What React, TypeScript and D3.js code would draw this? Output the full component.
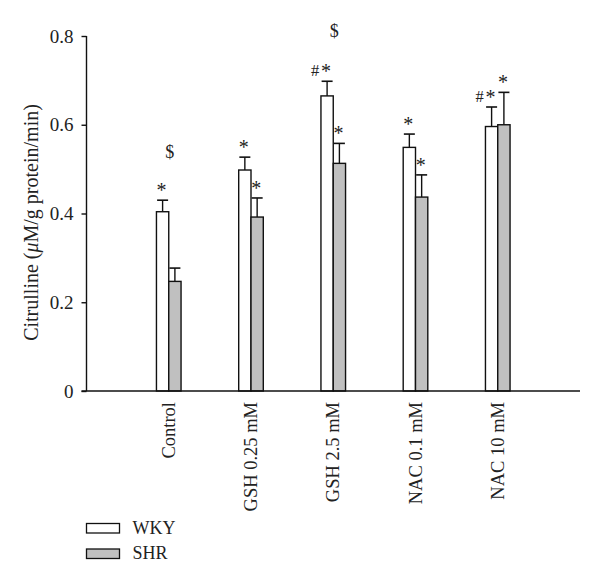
import React, { useEffect, useRef } from "react";
import * as d3 from "d3";

const categories = ["Control", "GSH 0.25 mM", "GSH 2.5 mM", "NAC 0.1 mM", "NAC 10 mM"];
const seriesNames = ["WKY", "SHR"];
const wkyMean = [0.404, 0.498, 0.665, 0.549, 0.596];
const wkyErr = [0.026, 0.029, 0.033, 0.03, 0.044];
const shrMean = [0.247, 0.392, 0.513, 0.437, 0.6];
const shrErr = [0.03, 0.043, 0.045, 0.05, 0.073];
// significance marks: "*" vs control, "#" vs other group
const wkyStar = [true, true, true, true, true];
const wkyHash = [false, false, true, false, true];
const shrStar = [false, true, true, true, true];
// "$" marks: group index and height (data units)
const dollarGroups = [0, 2];
const dollarLevels = [0.539, 0.813];
const yTicks = [0, 0.2, 0.4, 0.6, 0.8];

const FONT = "'Liberation Serif', 'DejaVu Serif', serif";

const App = () => {
  const container = useRef<HTMLDivElement>(null);

  useEffect(() => {
    const width = 600;
    const height = 586;
    const marginLeft = 86.5;
    const marginRight = 20;
    const marginTop = 36;
    const plotBottom = 391;
    const barW = 12.3;

    const x = d3
      .scalePoint()
      .domain(categories)
      .range([marginLeft, width - marginRight])
      .padding(1);

    const y = d3.scaleLinear().domain([0, 0.8]).range([plotBottom, marginTop]);

    const svg = d3
      .select(container.current)
      .append("svg")
      .attr("width", width)
      .attr("height", height)
      .style("display", "block")
      .style("font-family", FONT);

    const series = [
      { name: seriesNames[0], mean: wkyMean, err: wkyErr, star: wkyStar, hash: wkyHash, fill: "#ffffff", off: -barW },
      { name: seriesNames[1], mean: shrMean, err: shrErr, star: shrStar, hash: [] as boolean[], fill: "#c0c0c0", off: 0 },
    ];

    series.forEach((s) => {
      const g = svg.append("g");
      categories.forEach((c, i) => {
        const x0 = (x(c) as number) + s.off;
        const cx = x0 + barW / 2;
        const top = y(s.mean[i]);
        const errTop = y(s.mean[i] + s.err[i]);
        // error bar
        g.append("line")
          .attr("x1", cx).attr("x2", cx)
          .attr("y1", top).attr("y2", errTop)
          .attr("stroke", "#111").attr("stroke-width", 1.4);
        g.append("line")
          .attr("x1", cx - 5.5).attr("x2", cx + 5.5)
          .attr("y1", errTop).attr("y2", errTop)
          .attr("stroke", "#111").attr("stroke-width", 1.6);
        g.append("rect")
          .attr("x", x0)
          .attr("y", top)
          .attr("width", barW)
          .attr("height", plotBottom - top)
          .attr("fill", s.fill)
          .attr("stroke", "#111")
          .attr("stroke-width", 1.4);
        if (s.star[i]) {
          g.append("text")
            .attr("x", cx - 1)
            .attr("y", errTop - 3)
            .attr("text-anchor", "middle")
            .attr("font-size", 20)
            .attr("fill", "#222")
            .text("*");
        }
        if (s.hash[i]) {
          g.append("text")
            .attr("x", cx - 12)
            .attr("y", errTop - 5)
            .attr("text-anchor", "middle")
            .attr("font-size", 16.5)
            .attr("fill", "#222")
            .text("#");
        }
      });
    });

    dollarGroups.forEach((gi, k) => {
      svg.append("text")
        .attr("x", (x(categories[gi]) as number) + 1)
        .attr("y", y(dollarLevels[k]) + 6.5)
        .attr("text-anchor", "middle")
        .attr("font-size", 18)
        .attr("fill", "#222")
        .text("$");
    });

    // y axis
    const yAxis = svg
      .append("g")
      .attr("transform", `translate(${marginLeft},0)`)
      .call(
        d3.axisLeft(y)
          .tickValues(yTicks)
          .tickSize(5)
          .tickSizeOuter(0)
          .tickPadding(8)
          .tickFormat((d) => (d === 0 ? "0" : d3.format(".1f")(d as number)))
      );
    yAxis.select(".domain").attr("stroke", "#111").attr("stroke-width", 1.4)
      .attr("d", `M0,${plotBottom}V${marginTop}`);
    yAxis.selectAll(".tick line").attr("stroke", "#111").attr("stroke-width", 1.4);
    yAxis.selectAll("text").attr("font-size", 19).attr("font-family", FONT).attr("fill", "#222");

    // x axis
    svg.append("line")
      .attr("x1", marginLeft - 5).attr("x2", width - marginRight)
      .attr("y1", plotBottom).attr("y2", plotBottom)
      .attr("stroke", "#111").attr("stroke-width", 1.4);

    categories.forEach((c) => {
      svg.append("text")
        .attr("transform", `translate(${(x(c) as number) + 6},${plotBottom + 11}) rotate(-90)`)
        .attr("text-anchor", "end")
        .attr("font-size", 18.5)
        .attr("fill", "#222")
        .text(c);
    });

    // y label
    const yl = svg.append("text")
      .attr("transform", `translate(38,${(marginTop + plotBottom) / 2 + 9}) rotate(-90)`)
      .attr("text-anchor", "middle")
      .attr("font-size", 20)
      .attr("fill", "#222");
    yl.append("tspan").text("Citrulline (");
    yl.append("tspan").attr("font-style", "italic").text("μ");
    yl.append("tspan").text("M/g protein/min)");

    // legend
    series.forEach((s, i) => {
      const ly = 523.5 + i * 25.5;
      svg.append("rect")
        .attr("x", 86.5).attr("y", ly)
        .attr("width", 33).attr("height", 9.5)
        .attr("fill", s.fill).attr("stroke", "#111").attr("stroke-width", 1.3);
      svg.append("text")
        .attr("x", 132.5).attr("y", ly + 10)
        .attr("font-size", 18)
        .attr("fill", "#222")
        .text(s.name);
    });

    return () => {
      svg.remove();
    };
  }, []);

  return <div ref={container} style={{ margin: -8 }}></div>;
};

export default App;
